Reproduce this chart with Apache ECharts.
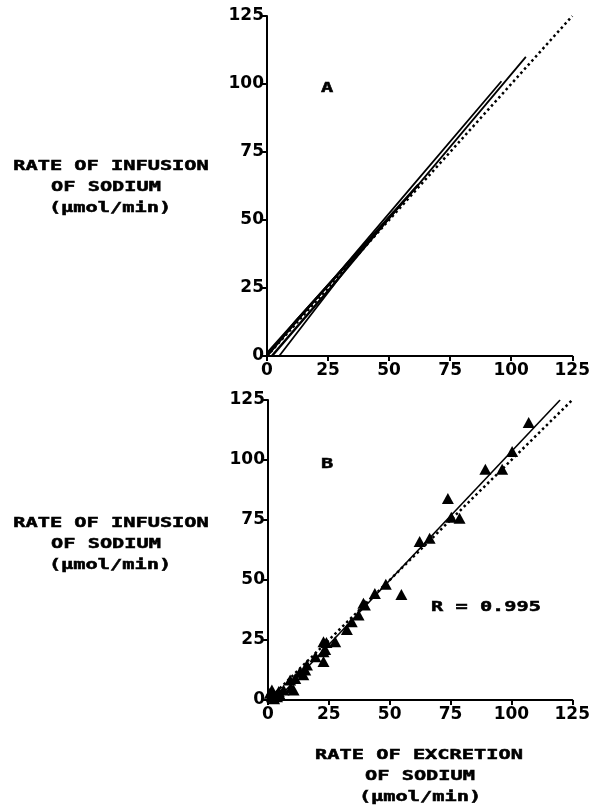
<!DOCTYPE html>
<html>
<head>
<meta charset="utf-8">
<script src="https://cdn.jsdelivr.net/npm/echarts@6/dist/echarts.min.js"></script>
<style>
  html, body { margin: 0; padding: 0; background: #fff; }
  #sodium { width: 593px; height: 810px; }
</style>
</head>
<body>
<div id="sodium"></div>
<script>
// axis ticks, both panels
const axisTicks = [0, 25, 50, 75, 100, 125];

// panel A: individual regression lines + line of identity
const lineA1 = [[0, 0], [25, 26], [60, 63], [96, 101]];
const lineA2 = [[5, 0], [35, 35], [62, 63], [106, 110]];
const lineA3 = [[0, 1], [30, 31], [62, 63]];
const lineA4 = [[2, 0], [26, 25], [52, 53]];
const lineA5 = [[0, 0], [12, 13], [40, 41]];
const identity = [[0, 0], [125, 125]];

// panel B: pooled points + fitted line
const pointsB = [
  [107.1, 115.6], [100.3, 103.5], [89.3, 96.1], [96.2, 96.1], [73.9, 84.0],
  [75.3, 76.1], [78.7, 75.7], [66.4, 67.4], [62.3, 66.0], [54.8, 44.0],
  [48.4, 48.2], [43.9, 44.4], [39.8, 39.6], [39.2, 40.3], [37.2, 35.4],
  [34.4, 32.6], [32.4, 29.4], [27.6, 24.3], [22.8, 24.3], [24.0, 24.0],
  [22.8, 20.1], [23.5, 21.0], [22.8, 16.0], [19.5, 18.0], [16.0, 14.6],
  [15.3, 12.5], [13.2, 11.8], [14.5, 10.5], [11.2, 9.0], [9.1, 8.3],
  [10.5, 4.2], [9.5, 5.0], [6.4, 4.2], [4.4, 3.5], [1.6, 4.2],
  [1.6, 1.4], [3.7, 1.4], [0.8, 2.8], [2.5, 0.5], [5.0, 2.0]
];
const fitB = [[3.5, 0], [120, 125]];
const rText = 'R = 0.995';

const titleFont = {
  fontFamily: 'DejaVu Sans Mono', fontWeight: 'bold', fontSize: 14, fill: '#000',
  stroke: '#000', lineWidth: 0.5,
  textAlign: 'center', textVerticalAlign: 'middle'
};
function label(text, x, y) {
  return { type: 'text', x: x, y: y, scaleX: 1.45, style: Object.assign({ text: text }, titleFont) };
}

function valueAxis(idx, isX) {
  return {
    type: 'value', gridIndex: idx, min: 0, max: 125, interval: 25,
    splitLine: { show: false },
    axisLine: { lineStyle: { color: '#000', width: 2 } },
    axisTick: { length: 5, lineStyle: { color: '#000', width: 2 } },
    axisLabel: { color: '#000', fontFamily: 'DejaVu Sans', fontWeight: 'bold', fontSize: 17,
      margin: isX ? 6 : 3,
      formatter: v => axisTicks.includes(v) ? String(v) : '' }
  };
}

function solid(data, x, y, w) {
  return { type: 'line', xAxisIndex: x, yAxisIndex: y, data: data, showSymbol: false, silent: true,
    lineStyle: { color: '#000', width: w || 1.8 } };
}
function dotted(data, x, y) {
  return { type: 'line', xAxisIndex: x, yAxisIndex: y, data: data, showSymbol: false, silent: true,
    lineStyle: { color: '#000', width: 2.5, type: [2.5, 3] } };
}

const myChart = echarts.init(document.getElementById('sodium'));
const option = {
  animation: false,
  backgroundColor: '#fff',
  grid: [
    { left: 267, top: 16, width: 306, height: 340 },
    { left: 268, top: 400, width: 305, height: 300 }
  ],
  xAxis: [valueAxis(0, true), valueAxis(1, true)],
  yAxis: [valueAxis(0, false), valueAxis(1, false)],
  series: [
    dotted(identity, 0, 0),
    solid(lineA1, 0, 0),
    solid(lineA2, 0, 0),
    solid(lineA3, 0, 0, 2.5),
    solid(lineA4, 0, 0, 2.5),
    solid(lineA5, 0, 0, 2.5),
    dotted(identity, 1, 1),
    solid(fitB, 1, 1, 1.6),
    { type: 'scatter', xAxisIndex: 1, yAxisIndex: 1, data: pointsB, symbol: 'triangle', symbolSize: [12, 11],
      itemStyle: { color: '#000', opacity: 1 }, silent: true }
  ],
  graphic: [
    label('A', 327, 88),
    label('B', 327, 464),
    label(rText, 486, 607),
    label('RATE OF INFUSION', 111, 166),
    label('OF SODIUM', 106, 187),
    label('(µmol/min)', 110, 208),
    label('RATE OF INFUSION', 111, 523),
    label('OF SODIUM', 106, 544),
    label('(µmol/min)', 110, 565),
    label('RATE OF EXCRETION', 419, 755),
    label('OF SODIUM', 420, 776),
    label('(µmol/min)', 420, 797)
  ]
};
myChart.setOption(option);
</script>
</body>
</html>
